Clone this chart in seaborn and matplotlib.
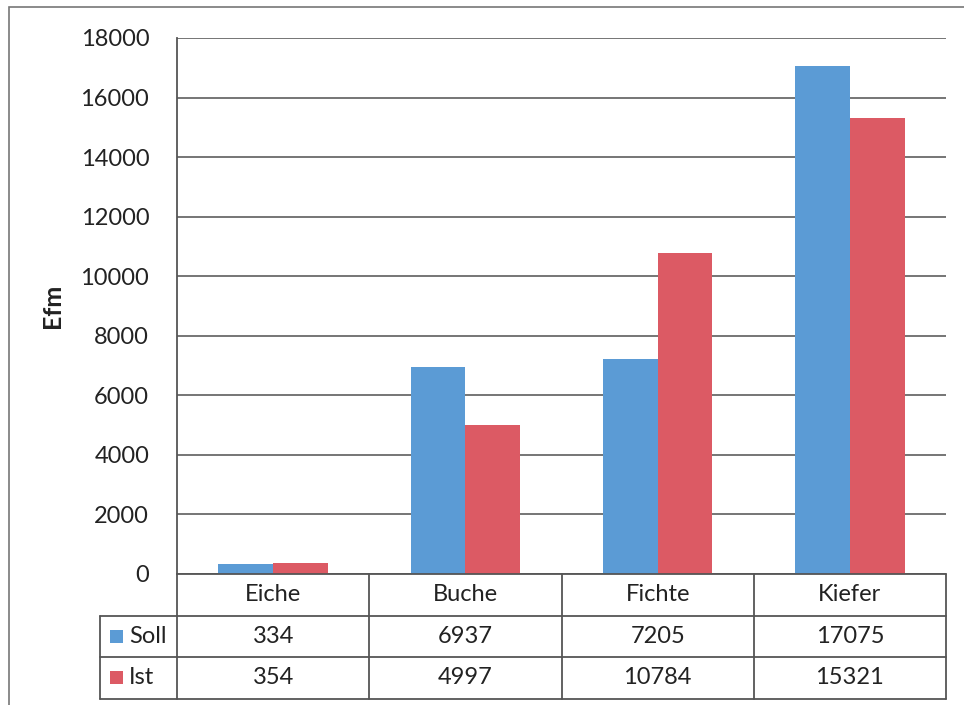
import matplotlib
matplotlib.use("Agg")
import matplotlib.pyplot as plt
import matplotlib.transforms as mtransforms
from matplotlib.patches import Rectangle
import seaborn as sns
import pandas as pd

categories = ["Eiche", "Buche", "Fichte", "Kiefer"]
soll = [334, 6937, 7205, 17075]
ist = [354, 4997, 10784, 15321]
series_names = ["Soll", "Ist"]
y_ticks = [0, 2000, 4000, 6000, 8000, 10000, 12000, 14000, 16000, 18000]
y_label = "Efm"

colors = {"Soll": "#5B9BD5", "Ist": "#DC5A64"}

df = pd.DataFrame({
    "Baumart": categories * 2,
    "Serie": [series_names[0]] * len(categories) + [series_names[1]] * len(categories),
    "Wert": soll + ist,
})

sns.set_theme(style="white")
plt.rcParams["font.family"] = ["Lato", "DejaVu Sans"]

W, H = 964, 705
fig = plt.figure(figsize=(W / 100, H / 100), dpi=100)
ax = fig.add_axes([177 / W, 1 - 574 / H, (946 - 177) / W, (574 - 38) / H])

sns.barplot(data=df, x="Baumart", y="Wert", hue="Serie", palette=colors,
            width=0.57, gap=0, saturation=1, ax=ax, legend=False,
            edgecolor="none", linewidth=0)

FS = 17
ax.set_ylim(0, 18000)
ax.set_xlim(-0.5, len(categories) - 0.5)
ax.set_yticks(y_ticks)
ax.set_yticklabels([str(t) for t in y_ticks], fontsize=FS, color="#222222")
ax.set_xticks([])
ax.set_xlabel("")
ax.set_ylabel(y_label, fontsize=18, fontweight="bold", color="#222222", labelpad=12)
ax.tick_params(axis="y", length=0, pad=20)
ax.yaxis.grid(True, color="#6a6a6a", linewidth=1.3)
ax.set_axisbelow(True)
for side in ["top", "right", "bottom"]:
    ax.spines[side].set_visible(False)
ax.spines["left"].set_color("#555555")
ax.spines["left"].set_linewidth(1.3)

# Data table below the axis
trans = mtransforms.blended_transform_factory(ax.transData, ax.transAxes)
ax_h_px = 574 - 38
row_h = 41.5 / ax_h_px
y_rows = [0, -row_h, -2 * row_h, -3 * row_h]
xl = -0.5
xr = len(categories) - 0.5
leg_x = xl - (177 - 100) / ((946 - 177) / len(categories))
lc = "#555555"
lw = 1.3

ax.plot([xl, xr], [y_rows[0]] * 2, transform=trans, color=lc, lw=lw, clip_on=False)
for yr in y_rows[1:]:
    ax.plot([leg_x, xr], [yr] * 2, transform=trans, color=lc, lw=lw, clip_on=False)
for i in range(len(categories) + 1):
    ax.plot([xl + i] * 2, [y_rows[0], y_rows[3]], transform=trans, color=lc, lw=lw, clip_on=False)
ax.plot([leg_x] * 2, [y_rows[1], y_rows[3]], transform=trans, color=lc, lw=lw, clip_on=False)

for i, c in enumerate(categories):
    ax.text(i, (y_rows[0] + y_rows[1]) / 2, c, transform=trans, ha="center", va="center",
            fontsize=FS, color="#222222", clip_on=False)
for r, (name, vals) in enumerate(zip(series_names, [soll, ist])):
    yc = (y_rows[r + 1] + y_rows[r + 2]) / 2
    for i, v in enumerate(vals):
        ax.text(i, yc, str(v), transform=trans, ha="center", va="center",
                fontsize=FS, color="#222222", clip_on=False)
    ax.add_patch(Rectangle((leg_x + 0.05, yc - 0.012), 0.07, 0.024, transform=trans,
                           facecolor=colors[name], edgecolor="none", clip_on=False))
    ax.text(leg_x + 0.15, yc, name, transform=trans, ha="left", va="center",
            fontsize=FS, color="#222222", clip_on=False)

fig.patches.append(Rectangle((9 / W, -0.01), 1.0, 1 - 7 / H + 0.01, transform=fig.transFigure,
                             fill=False, edgecolor="#777777", linewidth=1.2))

fig.savefig("out.png", dpi=100, facecolor="white")
